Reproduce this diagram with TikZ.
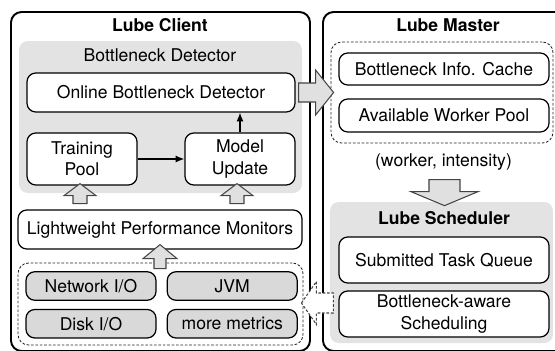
\documentclass[tikz,border=0pt]{standalone}
\usepackage{fontspec}
\setmainfont{TeX Gyre Heros}
\usepackage{tikz}
\usetikzlibrary{arrows.meta, positioning, calc}
\usepackage{xcolor}
\definecolor{regiongrey}{HTML}{E3E3E3}
\definecolor{metricgrey}{HTML}{D9D9D9}
\definecolor{arrowgrey}{HTML}{E0E0E0}
\definecolor{edgegrey}{HTML}{444444}
\tikzset{
  outerbox/.style={rectangle, draw=black, line width=1.1pt, rounded corners=6pt},
  region/.style={rectangle, fill=regiongrey, rounded corners=5pt},
  dashregion/.style={rectangle, draw=black!85, dash pattern=on 1.5pt off 1pt,
                     line width=0.5pt, rounded corners=6pt},
  compbox/.style={rectangle, draw=black, fill=white, line width=0.7pt,
                  rounded corners=5pt, align=center, inner sep=0pt},
  metricbox/.style={rectangle, draw=black, fill=metricgrey, line width=0.7pt,
                    rounded corners=5pt, align=center, inner sep=0pt,
                    minimum width=2.6cm, minimum height=0.57cm},
  titletext/.style={font=\bfseries, inner sep=0pt},
  blockarr/.style={draw=edgegrey, fill=arrowgrey, line width=0.6pt, line join=miter},
  dashblockarr/.style={draw=edgegrey, fill=white, line width=0.6pt,
                       dash pattern=on 1.5pt off 1pt},
  link/.style={->, line width=0.7pt, >={Latex[length=5pt,width=4pt]}},
}
\begin{document}
\begin{tikzpicture}
  \useasboundingbox (0,0) rectangle (11.1,7);

  % --- client side ---
  \node[outerbox, minimum width=5.98cm, minimum height=6.78cm] (client) at (3.21,3.37) {};
  \node[titletext] (clienttitle) at (3.2,6.5) {Lube Client};
  \node[region, minimum width=5.66cm, minimum height=3.04cm] (detector) at (3.21,4.66) {};
  \node[inner sep=0pt] (detectortitle) at (3.2,5.9) {Bottleneck Detector};

  \node[compbox, minimum width=5.36cm, minimum height=0.78cm] (online) at (3.22,5.15) {Online Bottleneck Detector};
  \node[compbox, minimum width=2.2cm, minimum height=1.04cm] (pool) at (1.64,3.82) {Training\\Pool};
  \node[compbox, minimum width=2.2cm, minimum height=1.04cm] (update) at (4.8,3.82) {Model\\Update};
  \node[compbox, minimum width=5.68cm, minimum height=0.78cm] (monitors) at (3.2,2.41) {Lightweight Performance Monitors};

  \node[dashregion, minimum width=5.7cm, minimum height=1.64cm] (metrics) at (3.21,0.92) {};
  \node[metricbox] (netio) at (1.82,1.28) {Network I/O};
  \node[metricbox, right=0.2cm of netio] (jvm) {JVM};
  \node[metricbox, below=0.16cm of netio] (diskio) {Disk I/O};
  \node[metricbox, right=0.2cm of diskio] (more) {more metrics};

  % --- master side ---
  \node[outerbox, minimum width=5cm, minimum height=6.78cm] (master) at (8.96,3.37) {};
  \node[titletext] (mastertitle) at (8.96,6.5) {Lube Master};
  \node[dashregion, minimum width=4.44cm, minimum height=2.02cm] (info) at (8.84,5.15) {};
  \node[compbox, minimum width=4.2cm, minimum height=0.64cm] (cache) at (8.88,5.62) {Bottleneck Info. Cache};
  \node[compbox, minimum width=4.2cm, minimum height=0.66cm] (workers) at (8.88,4.69) {Available Worker Pool};
  \node[inner sep=0pt] (pair) at (8.87,3.76) {(worker, intensity)};

  \node[region, minimum width=4.46cm, minimum height=2.82cm] (sched) at (8.83,1.55) {};
  \node[titletext] (schedtitle) at (8.88,2.64) {Lube Scheduler};
  \node[compbox, minimum width=4.2cm, minimum height=0.92cm] (queue) at (8.88,1.8) {Submitted Task Queue};
  \node[compbox, minimum width=4.2cm, minimum height=0.92cm] (aware) at (8.88,0.72) {Bottleneck-aware\\Scheduling};

  % --- connectors ---
  \draw[link] (pool.east) -- (update.west);
  \draw[link] (update.north) -- (update.north |- online.south);

  % block arrows, drawn from their tip
  \draw[blockarr] ($(pool.south)+(-0.04,0.04)$) -- ++(0.32,-0.24) -- ++(-0.18,0) -- ++(0,-0.16)
    -- ++(-0.28,0) -- ++(0,0.16) -- ++(-0.18,0) -- cycle;
  \draw[blockarr] ($(update.south)+(-0.06,0.04)$) -- ++(0.32,-0.24) -- ++(-0.18,0) -- ++(0,-0.16)
    -- ++(-0.28,0) -- ++(0,0.16) -- ++(-0.18,0) -- cycle;
  \draw[blockarr] ($(monitors.south)+(0,0.1)$) -- ++(0.34,-0.28) -- ++(-0.22,0) -- ++(0,-0.2)
    -- ++(-0.24,0) -- ++(0,0.2) -- ++(-0.22,0) -- cycle;
  \draw[blockarr] ($(online.east)+(0.76,0)$) -- ++(-0.36,0.45) -- ++(0,-0.26) -- ++(-0.34,0)
    -- ++(0,-0.38) -- ++(0.34,0) -- ++(0,-0.26) -- cycle;
  \draw[blockarr] ($(sched.north)+(0.06,-0.08)$) -- ++(0.67,0.28) -- ++(-0.36,0) -- ++(0,0.24)
    -- ++(-0.62,0) -- ++(0,-0.24) -- ++(-0.36,0) -- cycle;
  \draw[dashblockarr] ($(metrics.east)+(-0.04,0.02)$) -- ++(0.3,0.43) -- ++(0,-0.23) -- ++(0.34,0)
    -- ++(0,-0.4) -- ++(-0.34,0) -- ++(0,-0.23) -- cycle;
\end{tikzpicture}
\end{document}
